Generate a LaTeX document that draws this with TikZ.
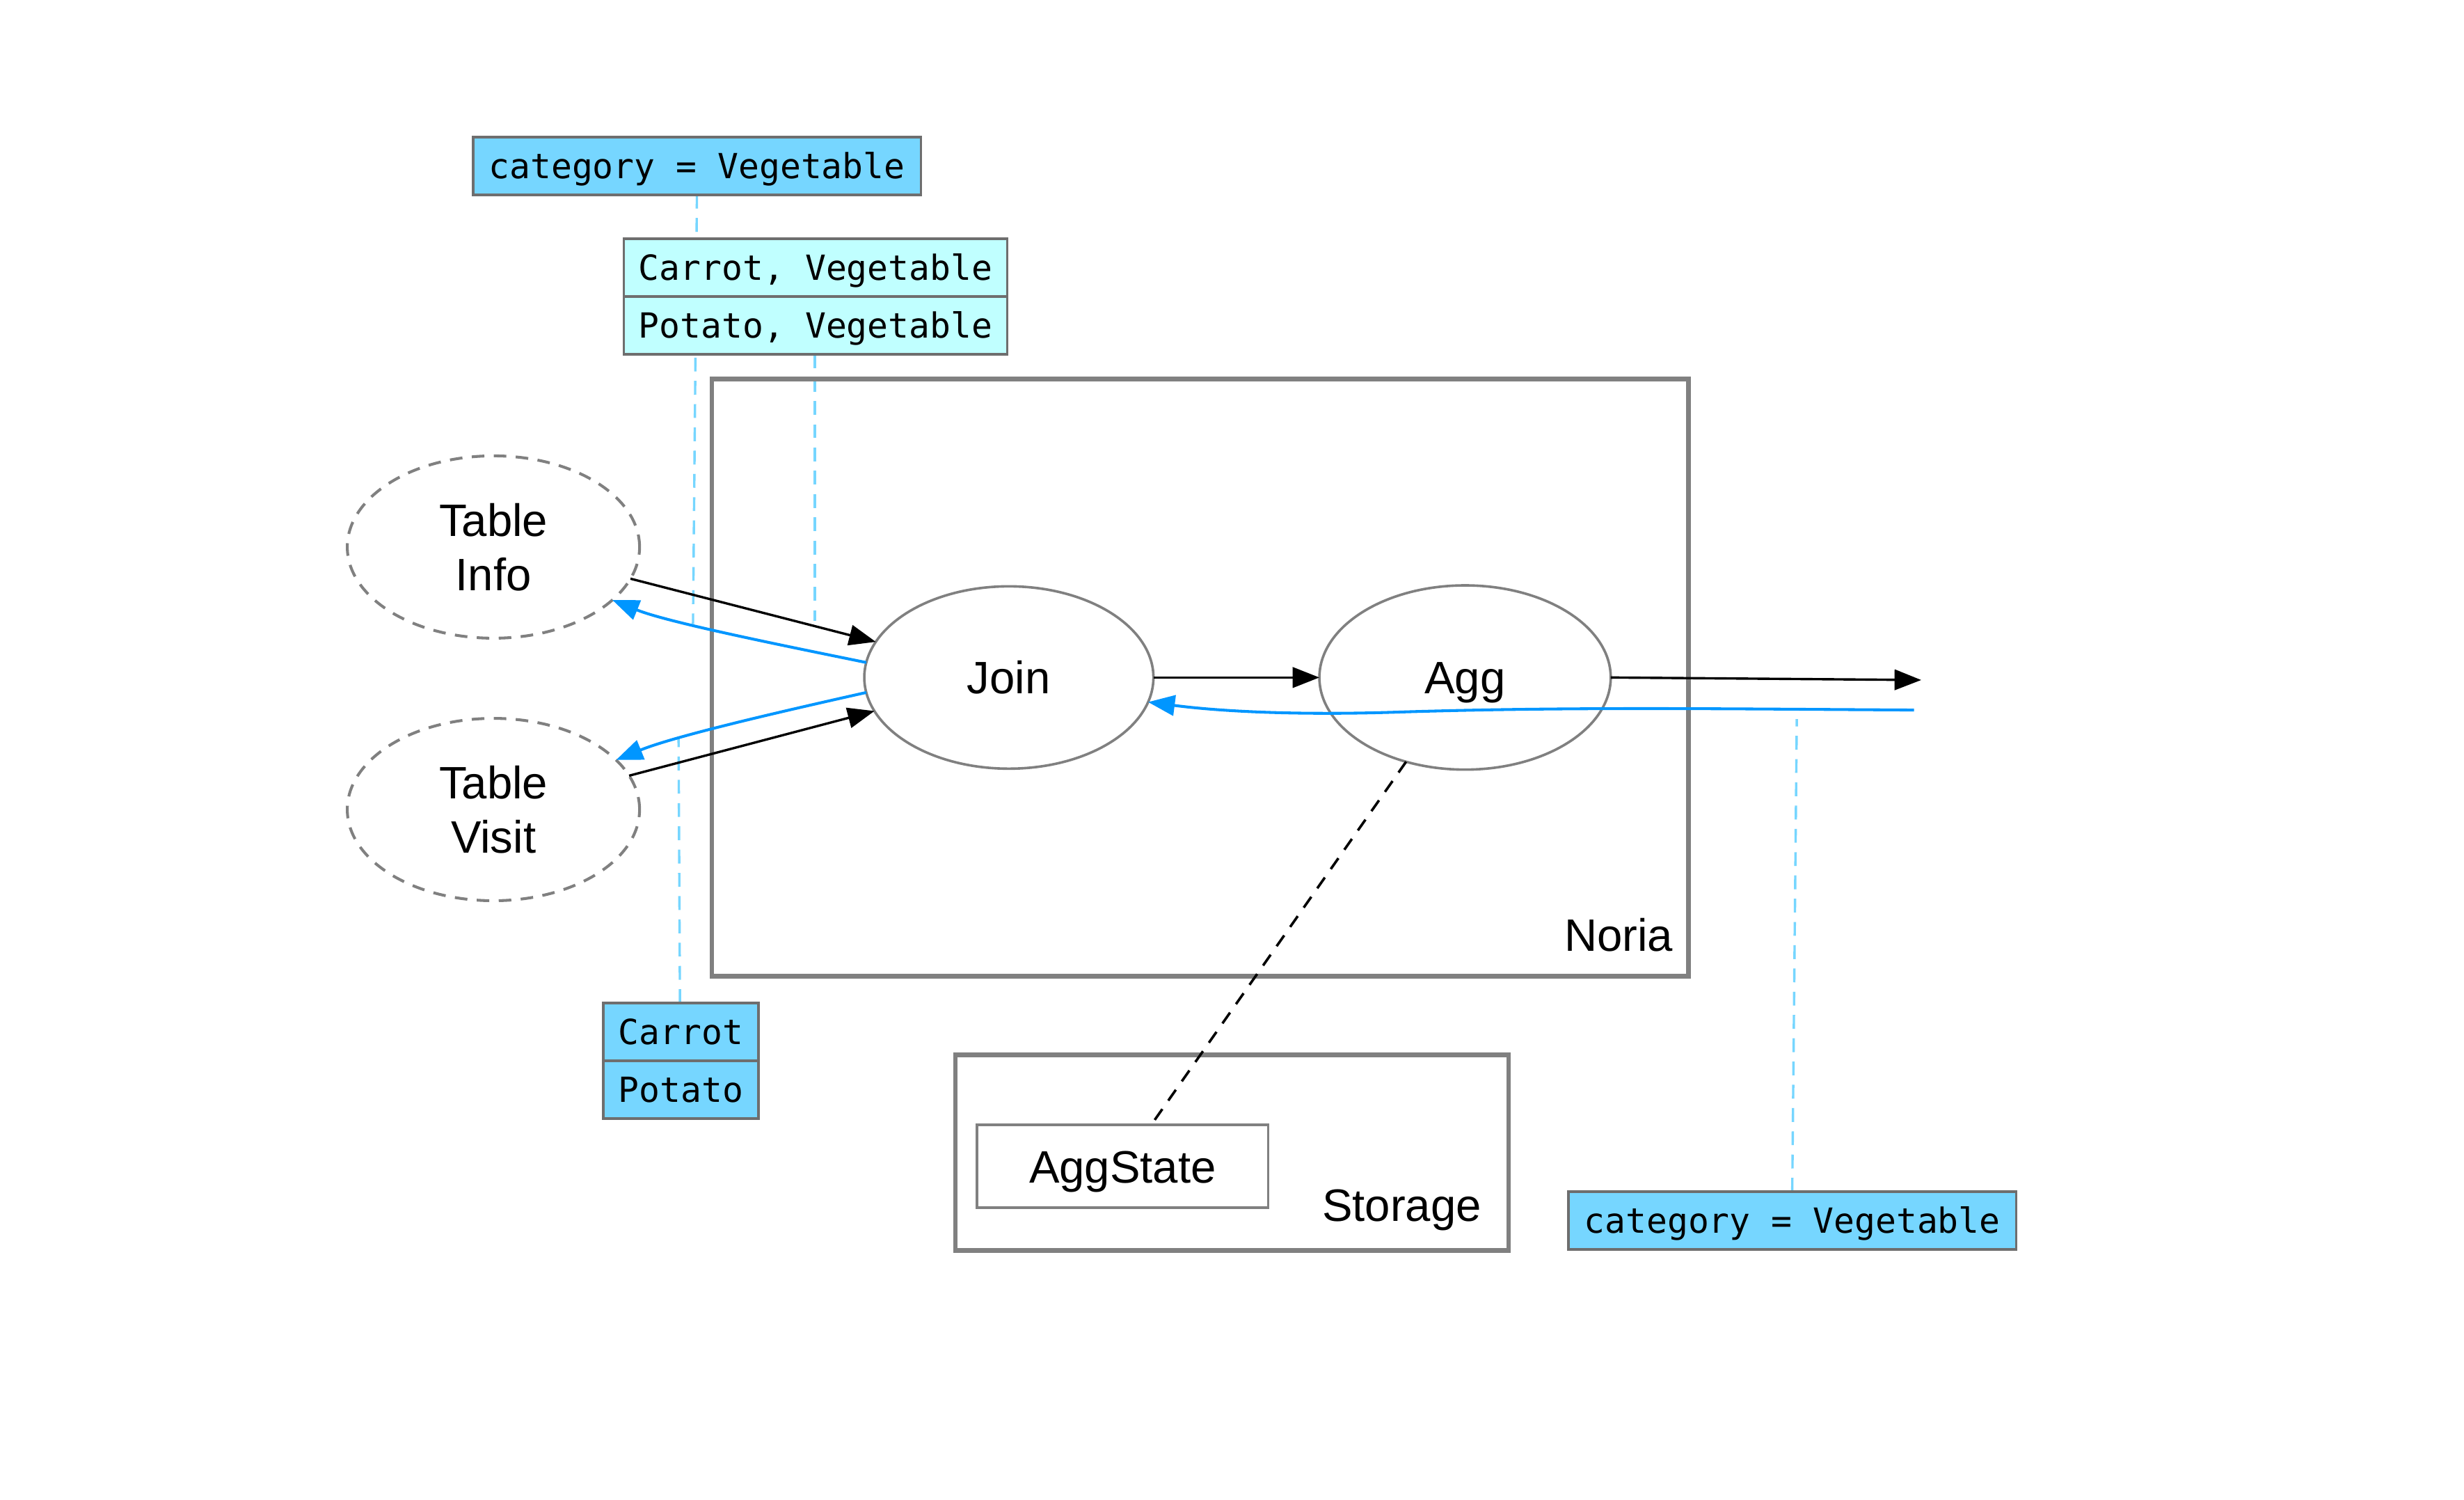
\documentclass[tikz,border=0pt]{standalone}
\usepackage{fontspec}
\setmainfont{Liberation Sans}
\newfontfamily\monofont{DejaVu Sans Mono}
\usetikzlibrary{arrows.meta,shapes.geometric,backgrounds}
\definecolor{cellblue}{HTML}{76D6FF}
\definecolor{cellcyan}{HTML}{C0FFFF}
\definecolor{boxgray}{HTML}{6E6E6E}
\definecolor{framegray}{HTML}{808080}
\definecolor{upblue}{HTML}{0096FF}
\definecolor{dashblue}{HTML}{76D6FF}
\tikzset{
  sanstxt/.style={font=\fontsize{14.45}{17.3}\selectfont},
  monotxt/.style={font=\monofont\fontsize{11}{13}\selectfont, text height=8pt, text depth=0pt},
  cell/.style={monotxt, draw=boxgray, line width=0.8pt, inner sep=0pt, outer sep=0pt, minimum height=18.4pt},
  opnode/.style={sanstxt, ellipse, draw=framegray, line width=0.8pt, inner sep=0pt, outer sep=0pt,
    minimum width=92.5pt, minimum height=58pt, text height=10.35pt, text depth=0pt},
  tblnode/.style={sanstxt, ellipse, draw=framegray, line width=0.9pt, dash pattern=on 4pt off 3pt,
    inner sep=0pt, outer sep=0pt, minimum width=93pt, minimum height=58pt, align=center},
  frame/.style={draw=framegray, line width=1.5pt, inner sep=0pt, outer sep=0pt},
  lbl/.style={sanstxt, inner sep=0pt, anchor=base east},
  fwd/.style={draw=black, line width=0.75pt, -{Triangle[length=8.5pt,width=6.5pt]}},
  upq/.style={draw=upblue, line width=0.9pt, -{Triangle[length=8.5pt,width=6.5pt]}},
  marker/.style={draw=dashblue, line width=0.75pt, dash pattern=on 4.4pt off 3pt},
  statelink/.style={draw=black, line width=0.8pt, dash pattern=on 4.2pt off 3.3pt}
}
\begin{document}
\begin{tikzpicture}[x=0.5pt,y=-0.5pt]
\useasboundingbox (0,0) rectangle (1568,954);

% containers
\node[frame, minimum width=310.75pt, minimum height=190pt] (noria) at (763.75,431) {};
\node[lbl] (norialbl) at (1065,605.2) {Noria};
\node[frame, minimum width=176pt, minimum height=62.25pt] (storage) at (784,733.25) {};
\node[lbl] (storagelbl) at (943,777) {Storage};
\node[sanstxt, draw=framegray, line width=0.8pt, inner sep=0pt, outer sep=0pt,
      minimum width=92.6pt, minimum height=26.4pt, text height=10.35pt, text depth=0pt]
      (aggstate) at (714.4,742) {AggState};

% operator nodes
\node[tblnode] (info) at (314,348) {Table\\Info};
\node[tblnode] (visit) at (314,515) {Table\\Visit};
\node[opnode, minimum width=92pt] (join) at (642,431) {Join};
\node[opnode, minimum width=92.7pt, minimum height=58.6pt] (agg) at (932.3,431) {Agg};
\coordinate (out) at (1222.6,432.6);
\coordinate (upin) at (1218,451.7);

% data boxes
\node[cell, fill=cellblue, minimum width=142.5pt] (topcat) at (443.5,105.5) {category = Vegetable};
\node[cell, fill=cellcyan, minimum width=122pt] (veg1) at (519,170.3) {Carrot, Vegetable};
\node[cell, fill=cellcyan, minimum width=122pt, anchor=north] (veg2) at (veg1.south) {Potato, Vegetable};
\node[cell, fill=cellblue, minimum width=49.4pt] (cp1) at (433.3,656.5) {Carrot};
\node[cell, fill=cellblue, minimum width=49.4pt, anchor=north] (cp2) at (cp1.south) {Potato};
\node[cell, fill=cellblue, minimum width=142.5pt] (botcat) at (1140.5,776.5) {category = Vegetable};

% marker end points
\coordinate (m1) at (441,397);
\coordinate (m2) at (518.5,395);
\coordinate (m3) at (431.8,468.5);
\coordinate (m4) at (1143.4,457.5);

\begin{scope}[on background layer]
  \fill[white] (0,0) rectangle (1568,954);
  \draw[marker] (topcat.south) -- (m1);
  \draw[marker] ([xshift=-0.25pt]veg2.south) -- (m2);
  \draw[marker] ([xshift=-0.3pt]cp1.north) -- (m3);
  \draw[marker] (botcat.north) -- (m4);
\end{scope}

% forward data flow
\draw[fwd] (info.-13.7) -- (join.165.7);
\draw[fwd] (visit.14.3) -- (join.194);
\draw[fwd] (join.east) -- (agg.west);
\draw[fwd] (agg.east) -- (out);

% upqueries
\draw[upq] (join.174) .. controls (500,411) and (425,396) .. (info.-24);
\draw[upq] (join.186.5) .. controls (500,452) and (430,468) .. (visit.22);
\draw[upq] (upin) .. controls (1100,451) and (1000,449.5) .. (890,453)
                  .. controls (830,455) and (780,453) .. (join.-10);

% state link
\draw[statelink] (agg.235) -- ([xshift=9.1pt]aggstate.north);
\end{tikzpicture}
\end{document}
